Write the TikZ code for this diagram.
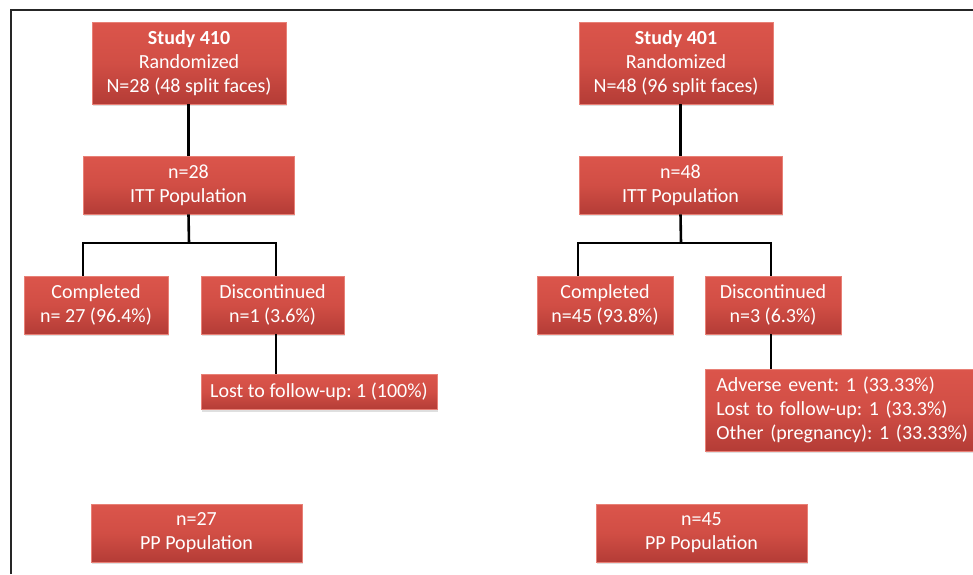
\documentclass[tikz,border=0pt]{standalone}
\usepackage{fontspec}
\setmainfont{Carlito}
\frenchspacing
\usetikzlibrary{shadows}
\definecolor{boxtop}{RGB}{219,85,75}
\definecolor{boxmid}{RGB}{209,78,69}
\definecolor{boxbot}{RGB}{180,60,54}
\definecolor{boxedge}{RGB}{232,128,118}
\tikzset{
  redbox/.style={draw=boxedge,line width=0.6pt,top color=boxtop,bottom color=boxbot,middle color=boxmid,
    text=white,font=\fontsize{20}{24}\selectfont,align=center,inner sep=4pt,
    drop shadow={opacity=0.25,shadow xshift=1pt,shadow yshift=-2pt}},
  link/.style={line width=2.6pt,black}
}
\begin{document}
\begin{tikzpicture}[x=1pt,y=-1pt]
      \clip (0,0) rectangle (973,574);
      \fill[white] (0,0) rectangle (973,574);
      \draw[line width=2pt,black!85] (11,574) -- (11,10) -- (973,10);

      \node[redbox,minimum width=194,minimum height=82] (s410) at (189,63) {\textbf{Study 410}\\Randomized\\N=28 (48 split faces)};
      \node[redbox,minimum width=211,minimum height=58] (itt410) at (188.5,185) {n=28\\ITT Population};
      \node[redbox,minimum width=144,minimum height=58] (comp410) at (96,305) {Completed\\n= 27 (96.4\%)};
      \node[redbox,minimum width=143,minimum height=58] (disc410) at (272.5,305) {Discontinued\\n=1 (3.6\%)};
      \node[redbox,minimum width=236,minimum height=35] (lost410) at (319,392) {Lost to follow-up: 1 (100\%)};
      \node[redbox,minimum width=211,minimum height=58] (pp410) at (196.5,533) {n=27\\PP Population};

      \node[redbox,minimum width=194,minimum height=82] (s401) at (676,63) {\textbf{Study 401}\\Randomized\\N=48 (96 split faces)};
      \node[redbox,minimum width=203,minimum height=58] (itt401) at (680.5,185) {n=48\\ITT Population};
      \node[redbox,minimum width=136,minimum height=58] (comp401) at (605,305) {Completed\\n=45 (93.8\%)};
      \node[redbox,minimum width=136,minimum height=58] (disc401) at (773,305) {Discontinued\\n=3 (6.3\%)};
      \node[redbox,anchor=west,align=left,text width=268,inner xsep=11pt,minimum height=82] (why401) at (705,410) {Adverse event: 1 (33.33\%)\\Lost to follow-up: 1 (33.3\%)\\Other (pregnancy): 1 (33.33\%)};
      \node[redbox,minimum width=211,minimum height=58] (pp401) at (701.5,533) {n=45\\PP Population};

      \coordinate (b410) at (189,243);
      \coordinate (b401) at (681,243);

      \draw[link] (s410.south -| itt410) -- (itt410.north);
      \draw[link] (itt410.south) -- (b410);
      \draw[link] (comp410.north -| 83,0) -- (83,243) -- (276,243) -- (disc410.north -| 276,0);
      \draw[link] (disc410.south -| 276,0) -- (lost410.north -| 276,0);

      \draw[link] (s401.south -| itt401) -- (itt401.north);
      \draw[link] (itt401.south) -- (b401);
      \draw[link] (comp401.north -| 578,0) -- (578,243) -- (771,243) -- (disc401.north -| 771,0);
      \draw[link] (disc401.south -| 771,0) -- (why401.north -| 771,0);
\end{tikzpicture}
\end{document}
